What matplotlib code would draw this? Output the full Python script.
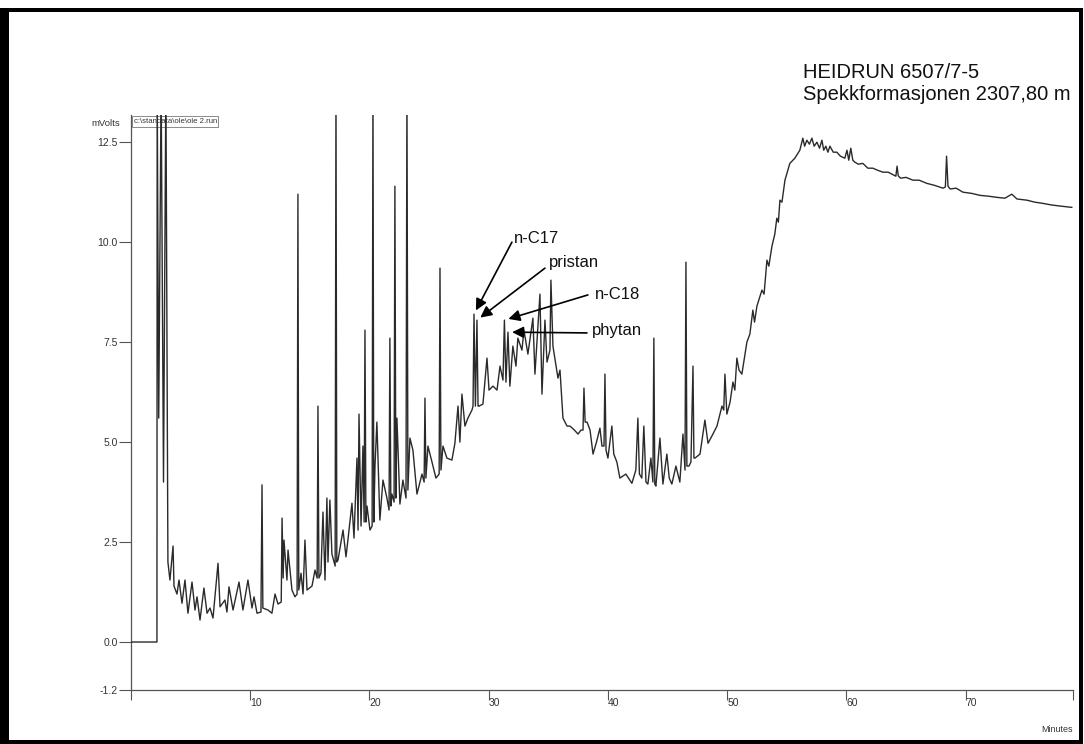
import numpy as np
import matplotlib.pyplot as plt
from matplotlib.patches import Rectangle

plt.rcParams['font.family'] = ['Liberation Sans', 'DejaVu Sans']

# GC trace, (retention time [min], signal [mV]); 14.0 marks peaks running off scale
early_trace = [
    (0.00, 0.00), (2.20, 0.00), (2.22, 14.0), (2.35, 5.6), (2.55, 14.0), (2.75, 4.0),
    (2.95, 14.0), (3.12, 2.0), (3.29, 1.55), (3.55, 2.4), (3.63, 1.4), (3.88, 1.2),
    (4.05, 1.55), (4.30, 0.97), (4.55, 1.55), (4.80, 0.72), (5.14, 1.5), (5.39, 0.8),
    (5.56, 1.13), (5.81, 0.55), (6.14, 1.35), (6.40, 0.72), (6.65, 0.85), (6.90, 0.6),
    (7.32, 1.97), (7.49, 0.88), (7.90, 1.05), (8.07, 0.75), (8.24, 1.38), (8.58, 0.8),
    (9.08, 1.5), (9.41, 0.8), (9.83, 1.55), (10.17, 0.85), (10.34, 1.13), (10.59, 0.72),
    (10.92, 0.75), (11.01, 3.93), (11.08, 0.85),
]

alkane_trace = [
    (11.51, 0.8), (11.84, 0.72), (12.10, 1.2), (12.35, 0.95), (12.62, 1.0), (12.69, 3.1),
    (12.78, 1.6), (12.85, 2.55), (13.10, 1.55), (13.19, 2.3), (13.52, 1.3), (13.77, 1.13),
    (13.95, 1.2), (14.02, 11.2), (14.09, 1.3), (14.28, 1.72), (14.45, 1.2), (14.61, 2.55),
    (14.78, 1.3), (15.20, 1.4), (15.45, 1.8), (15.63, 1.6), (15.70, 5.9), (15.78, 1.6),
    (15.95, 1.72), (16.12, 3.25), (16.29, 1.55), (16.45, 3.6), (16.54, 2.0), (16.70, 3.55),
    (16.87, 2.2), (17.14, 1.9), (17.21, 14.0), (17.28, 2.0), (17.38, 2.05), (17.63, 2.5),
    (17.80, 2.8), (18.05, 2.13), (18.21, 2.55), (18.55, 3.47), (18.72, 2.6), (18.97, 4.6),
    (19.06, 2.8), (19.14, 5.7), (19.31, 2.9), (19.47, 4.9), (19.57, 3.0), (19.64, 7.8),
    (19.72, 3.0), (19.81, 3.4), (20.06, 2.8), (20.24, 2.9), (20.31, 14.0), (20.38, 3.0),
    (20.48, 4.4), (20.64, 5.5), (20.89, 3.05), (21.15, 4.05), (21.48, 3.6), (21.66, 3.3),
    (21.73, 7.6), (21.81, 3.4), (21.90, 3.7), (22.08, 3.5), (22.15, 11.4), (22.23, 3.6),
    (22.32, 5.6), (22.57, 3.45), (22.82, 4.05), (23.08, 3.6), (23.16, 14.0), (23.24, 3.8),
    (23.41, 5.1), (23.66, 4.8), (24.00, 3.7), (24.42, 4.2), (24.60, 4.0), (24.67, 6.1),
    (24.75, 4.1), (24.92, 4.9), (25.26, 4.5), (25.59, 4.1), (25.86, 4.2), (25.93, 9.35),
    (26.01, 4.3), (26.18, 4.9), (26.51, 4.6), (26.93, 4.55), (27.18, 4.97), (27.44, 5.9),
    (27.60, 5.0), (27.77, 6.2), (28.02, 5.4), (28.27, 5.6), (28.61, 5.8), (28.70, 5.9),
    (28.78, 8.2), (28.90, 5.9), (29.03, 8.05), (29.12, 5.9), (29.20, 5.9), (29.53, 5.95),
    (29.87, 7.1), (30.04, 6.3), (30.37, 6.4), (30.71, 6.3), (30.96, 6.9), (31.21, 6.55),
    (31.33, 8.05), (31.46, 6.5), (31.63, 7.75), (31.79, 6.4), (32.04, 7.4), (32.30, 6.9),
    (32.46, 7.6), (32.80, 7.3), (32.97, 7.8), (33.30, 7.2), (33.72, 8.1), (33.89, 6.7),
    (34.31, 8.7), (34.48, 6.2), (34.73, 8.05), (34.90, 7.0), (35.15, 7.3), (35.23, 9.05),
    (35.40, 7.4), (35.82, 6.6), (35.99, 6.8),
]

ucm_trace = [
    (36.24, 5.6), (36.58, 5.4), (36.83, 5.4), (37.20, 5.3), (37.50, 5.2), (37.75, 5.3),
    (37.92, 5.3), (38.00, 6.35), (38.10, 5.5), (38.26, 5.5), (38.51, 5.3), (38.76, 4.7),
    (39.05, 5.0), (39.34, 5.35), (39.51, 4.9), (39.68, 4.9), (39.76, 6.7), (39.85, 4.8),
    (40.01, 4.6), (40.34, 5.4), (40.50, 4.7), (40.76, 4.5), (41.01, 4.1), (41.51, 4.2),
    (42.02, 3.97), (42.35, 4.3), (42.52, 5.6), (42.65, 4.2), (42.85, 4.1), (43.02, 5.4),
    (43.20, 4.0), (43.36, 3.95), (43.61, 4.6), (43.78, 4.0), (43.86, 7.6), (43.94, 3.95),
    (44.03, 3.9), (44.37, 5.1), (44.62, 3.95), (44.95, 4.7), (45.15, 4.1), (45.37, 3.95),
    (45.71, 4.4), (46.04, 4.0), (46.30, 5.2), (46.47, 4.3), (46.55, 9.5), (46.63, 4.4),
    (46.80, 4.4), (46.97, 4.5), (47.14, 6.9), (47.22, 4.6), (47.31, 4.6), (47.73, 4.7),
    (48.14, 5.55), (48.40, 4.97), (48.81, 5.2), (49.15, 5.4), (49.57, 5.9), (49.72, 5.8),
    (49.82, 6.7), (49.98, 5.7), (50.25, 6.0), (50.49, 6.5), (50.65, 6.3), (50.82, 7.1),
    (51.00, 6.8), (51.24, 6.7), (51.66, 7.5), (51.91, 7.7), (52.16, 8.3), (52.30, 8.0),
    (52.50, 8.4), (52.92, 8.8), (53.10, 8.7), (53.34, 9.55), (53.50, 9.4), (53.76, 9.9),
    (54.00, 10.2), (54.17, 10.6), (54.30, 10.5), (54.43, 11.05), (54.60, 11.0), (54.85, 11.55),
    (55.26, 11.97), (55.68, 12.1),
]

late_trace = [
    (56.10, 12.3), (56.35, 12.6), (56.50, 12.4), (56.69, 12.55), (56.90, 12.45), (57.11, 12.6),
    (57.30, 12.4), (57.53, 12.5), (57.75, 12.35), (57.95, 12.55), (58.10, 12.3), (58.28, 12.4),
    (58.45, 12.25), (58.62, 12.4), (58.90, 12.25), (59.20, 12.25), (59.50, 12.15), (59.87, 12.1),
    (60.05, 12.3), (60.20, 12.05), (60.37, 12.35), (60.54, 12.05), (60.71, 12.0), (61.00, 11.95),
    (61.38, 11.97), (61.80, 11.85), (62.22, 11.85), (62.60, 11.8), (63.06, 11.75), (63.50, 11.75),
    (63.95, 11.68), (64.15, 11.65), (64.25, 11.9), (64.35, 11.66), (64.55, 11.6), (65.00, 11.62),
    (65.58, 11.55), (66.10, 11.55), (66.75, 11.47), (67.40, 11.42), (68.10, 11.35), (68.30, 11.38),
    (68.40, 12.15), (68.52, 11.4), (68.70, 11.33), (69.20, 11.35), (69.77, 11.25), (70.50, 11.22),
    (71.20, 11.17), (71.90, 11.15), (72.62, 11.12), (73.30, 11.1), (73.87, 11.2), (74.30, 11.08),
    (75.13, 11.05), (75.80, 11.0), (76.47, 10.97), (77.20, 10.93), (78.00, 10.9), (78.90, 10.87),
]

# identified peaks
peak_names = ['n-C17', 'pristan', 'n-C18', 'phytan']
peak_times = [28.78, 29.03, 31.33, 31.63]
peak_heights = [8.2, 8.05, 8.05, 7.75]

y_ticks = [-1.2, 0.0, 2.5, 5.0, 7.5, 10.0, 12.5]
y_tick_labels = ['-1.2', '0.0', '2.5', '5.0', '7.5', '10.0', '12.5']
x_ticks = [0, 10, 20, 30, 40, 50, 60, 70, 79]
x_tick_labels = ['', '10', '20', '30', '40', '50', '60', '70', '']

trace = np.array(early_trace + alkane_trace + ucm_trace + late_trace)

W, H = 1084, 744
fig = plt.figure(figsize=(W / 100, H / 100), dpi=100)
fig.patch.set_facecolor('white')

# axes box in pixel terms: x 130.7..1073, y 115..690
ax = fig.add_axes([130.7 / W, 1 - 690 / H, (1073 - 130.7) / W, (690 - 115) / H])
ax.set_xlim(0, 79)
ax.set_ylim(-1.2, 13.18)

ax.plot(trace[:, 0], trace[:, 1], color='#2a2a2a', lw=1.0, zorder=3)

for side in ['top', 'right']:
    ax.spines[side].set_visible(False)
for side in ['left', 'bottom']:
    ax.spines[side].set_color('#555555')
    ax.spines[side].set_linewidth(0.9)

ax.set_yticks(y_ticks)
ax.set_yticklabels(y_tick_labels)
ax.set_xticks(x_ticks)
ax.set_xticklabels(x_tick_labels)
ax.tick_params(axis='y', direction='out', length=8.5, width=0.8, color='#555555',
               labelsize=7.5, labelcolor='#333333', pad=1)
ax.tick_params(axis='x', direction='out', length=7, width=0.8, color='#555555',
               labelsize=7.5, labelcolor='#333333', pad=-1.5)
for lab in ax.get_xticklabels():
    lab.set_ha('left')

# peak annotations: text anchor and arrow tail in data units
label_pos = [(32.13, 10.1), (35.06, 9.48), (38.92, 8.7), (38.67, 7.8)]
tail_pos = [(31.96, 10.0), (34.73, 9.35), (38.33, 8.68), (38.25, 7.73)]
for name, t, h, (lx, ly), (tx, ty) in zip(peak_names, peak_times, peak_heights,
                                          label_pos, tail_pos):
    ax.text(lx, ly, name, fontsize=12, ha='left', va='center', color='#111111', zorder=5)
    ax.annotate('', xy=(t, h), xytext=(tx, ty),
                arrowprops=dict(arrowstyle='-|>', color='black', lw=1.2,
                                mutation_scale=17, shrinkA=0, shrinkB=3),
                zorder=5)

# run file tag at top of the axis
ax.text(0.003, 1 - 6.5 / 575, r'c:\standata\ole\ole 2.run', transform=ax.transAxes,
        fontsize=5.6, ha='left', va='center', color='#333333', zorder=2,
        bbox=dict(boxstyle='square,pad=0.2', fc='white', ec='#777777', lw=0.6))

fig.text(106 / W, 1 - 123 / H, 'mVolts', fontsize=6.8, ha='center', va='center',
         color='#333333')
fig.text(1073 / W, 1 - 729 / H, 'Minutes', fontsize=6.4, ha='right', va='center',
         color='#333333')

fig.text(803 / W, 1 - 72 / H, 'HEIDRUN 6507/7-5', fontsize=14.5, ha='left',
         va='center', color='#111111')
fig.text(803 / W, 1 - 94 / H, 'Spekkformasjonen 2307,80 m', fontsize=14.5, ha='left',
         va='center', color='#111111')

# black page border
border = [(0, 8, 9, 736), (0, 8, 1083, 4), (1079, 8, 4, 736), (0, 740, 1083, 4)]
for bx, by, bw, bh in border:
    fig.add_artist(Rectangle((bx / W, 1 - (by + bh) / H), bw / W, bh / H,
                             transform=fig.transFigure, color='black', lw=0))

fig.savefig('out.png', dpi=100)
